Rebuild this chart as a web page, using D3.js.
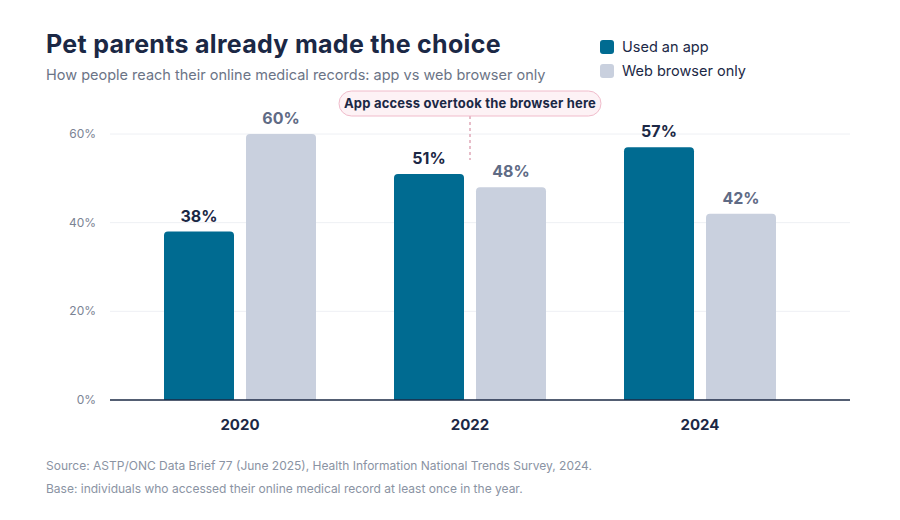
<!DOCTYPE html>
<html><head><meta charset="utf-8">
<script src="https://cdn.jsdelivr.net/npm/d3@7"></script>
<style>
body{margin:0;background:#fff;font-family:Inter,"Noto Sans",sans-serif;}
</style></head><body>
<svg id="chart" width="900" height="520"></svg>
<script>
var years = ["2020", "2022", "2024"];
var seriesNames = ["Used an app", "Web browser only"];
var appValues = [38, 51, 57];
var webValues = [60, 48, 42];
var yTicks = [0, 20, 40, 60];
var colors = ["#006b91", "#c9d0de"];

var svg = d3.select("#chart");
var x = d3.scaleBand().domain(years).range([125, 815]);
var y = d3.scaleLinear().domain([0, 60]).range([400, 134]);
var barW = 70, gap = 12;

svg.append("text").attr("x", 46).attr("y", 53).attr("font-size", 25).attr("font-weight", 700)
  .attr("letter-spacing", 0.3).attr("fill", "#1b2845").text("Pet parents already made the choice");
svg.append("text").attr("x", 46).attr("y", 80).attr("font-size", 14.5).attr("fill", "#6b7486")
  .text("How people reach their online medical records: app vs web browser only");

// legend
seriesNames.forEach(function(n, i) {
  var g = svg.append("g").attr("transform", "translate(600," + (40 + i * 24) + ")");
  g.append("rect").attr("width", 14).attr("height", 14).attr("rx", 3).attr("fill", colors[i]);
  g.append("text").attr("x", 22).attr("y", 12).attr("font-size", 14.5).attr("fill", "#1b2845").text(n);
});

// grid
svg.selectAll(".grid").data(yTicks.slice(1)).enter().append("line")
  .attr("x1", 110).attr("x2", 850).attr("y1", d => y(d)).attr("y2", d => y(d))
  .attr("stroke", "#eef0f4");
svg.selectAll(".yl").data(yTicks).enter().append("text")
  .attr("x", 96).attr("y", d => y(d) + 4).attr("text-anchor", "end")
  .attr("font-size", 12).attr("fill", "#7b8394").text(d => d + "%");

function barPath(x0, v) {
  var top = y(v), r = 4, b = y(0);
  return "M" + x0 + "," + b + "V" + (top + r) + "Q" + x0 + "," + top + " " + (x0 + r) + "," + top +
    "H" + (x0 + barW - r) + "Q" + (x0 + barW) + "," + top + " " + (x0 + barW) + "," + (top + r) + "V" + b + "Z";
}

[appValues, webValues].forEach(function(vals, s) {
  years.forEach(function(yr, i) {
    var cx = x(yr) + x.bandwidth() / 2;
    var x0 = s === 0 ? cx - gap / 2 - barW : cx + gap / 2;
    svg.append("path").attr("d", barPath(x0, vals[i])).attr("fill", colors[s]);
    svg.append("text").attr("x", x0 + barW / 2).attr("y", y(vals[i]) - 10).attr("text-anchor", "middle")
      .attr("font-size", 16).attr("font-weight", 700).attr("fill", s === 0 ? "#1b2845" : "#5f6b85")
      .text(vals[i] + "%");
  });
});

// axis
svg.append("line").attr("x1", 110).attr("x2", 850).attr("y1", 400).attr("y2", 400)
  .attr("stroke", "#1b2845").attr("stroke-width", 1.5);
svg.selectAll(".xl").data(years).enter().append("text")
  .attr("x", d => x(d) + x.bandwidth() / 2).attr("y", 430).attr("text-anchor", "middle")
  .attr("font-size", 15).attr("font-weight", 700).attr("fill", "#1b2845").text(d => d);

// annotation
var ax = x("2022") + x.bandwidth() / 2;
svg.append("line").attr("x1", ax).attr("x2", ax).attr("y1", 116).attr("y2", 160)
  .attr("stroke", "#e0a8b8").attr("stroke-dasharray", "3,3").attr("stroke-width", 1.5);
svg.append("rect").attr("x", ax - 131).attr("y", 91).attr("width", 262).attr("height", 25).attr("rx", 12.5)
  .attr("fill", "#fdf2f5").attr("stroke", "#f0bccb");
svg.append("text").attr("x", ax).attr("y", 108).attr("text-anchor", "middle").attr("letter-spacing", 0.2)
  .attr("font-size", 13).attr("font-weight", 700).attr("fill", "#1b2845").text("App access overtook the browser here");

svg.append("text").attr("x", 46).attr("y", 470).attr("font-size", 12).attr("fill", "#8a93a3")
  .text("Source: ASTP/ONC Data Brief 77 (June 2025), Health Information National Trends Survey, 2024.");
svg.append("text").attr("x", 46).attr("y", 493).attr("font-size", 12).attr("fill", "#8a93a3")
  .text("Base: individuals who accessed their online medical record at least once in the year.");
</script></body></html>
